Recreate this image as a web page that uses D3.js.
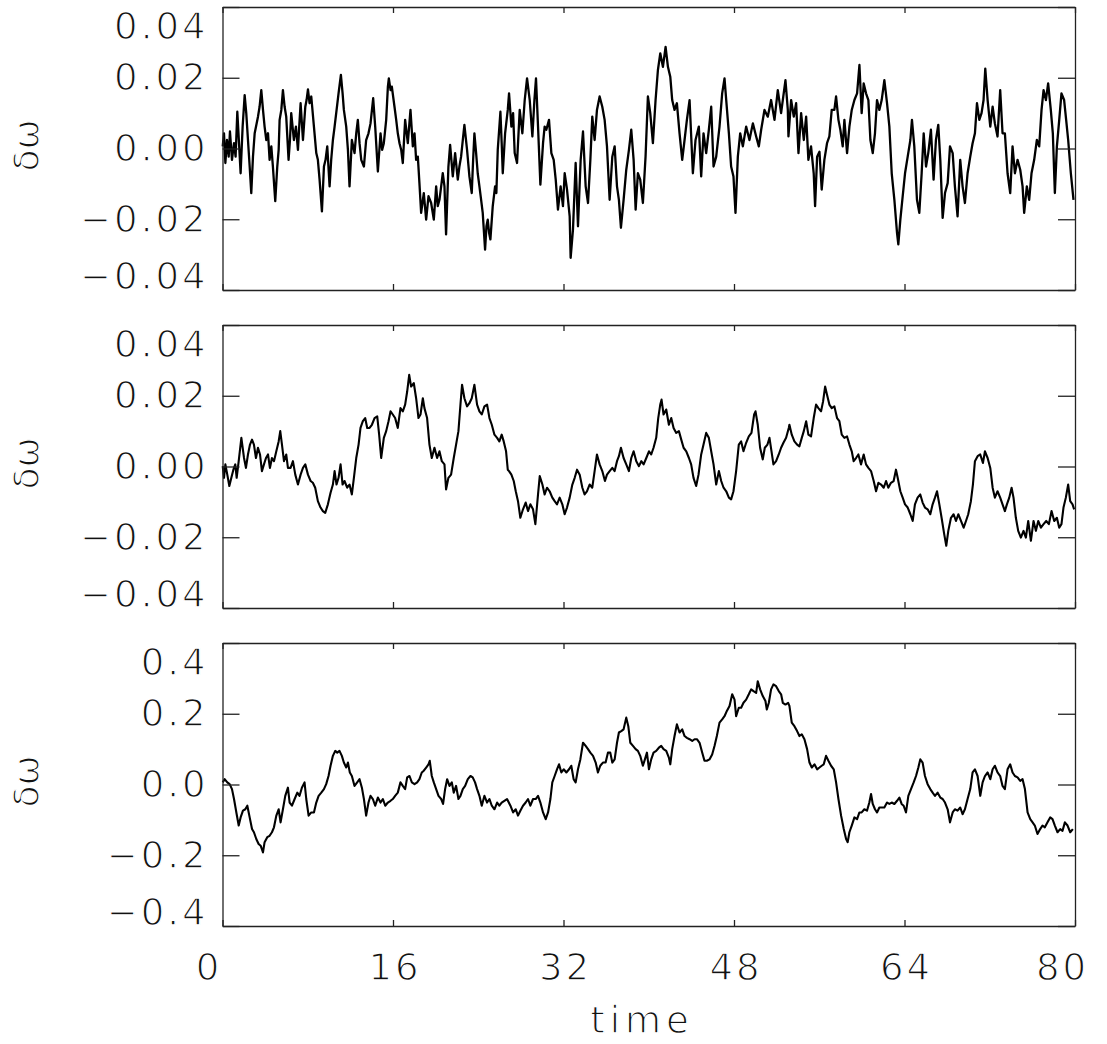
<!DOCTYPE html>
<html><head><meta charset="utf-8">
<script src="https://cdn.jsdelivr.net/npm/d3@7"></script>
<style>
body{margin:0;background:#fff}
svg text{font-family:"DejaVu Sans","Liberation Sans",sans-serif;fill:#111;stroke:#fff;stroke-width:1.3px}
</style></head><body>
<svg id="c" width="1107" height="1044"></svg>
<script>
// ---- data ----
const times1=[0.02,0.14,0.27,0.42,0.58,0.70,0.89,1.08,1.23,1.39,1.55,1.70,1.89,2.08,2.23,2.39,2.55,2.70,2.86,3.02,3.33,3.48,3.64,3.80,3.95,4.11,4.27,4.42,4.58,4.73,4.95,5.14,5.27,5.36,5.52,5.67,5.83,5.98,6.20,6.33,6.45,6.70,6.89,7.08,7.20,7.33,7.55,7.77,7.89,8.02,8.17,8.33,8.58,8.80,8.95,9.11,9.33,9.52,9.67,9.83,10.05,10.20,10.36,10.52,10.67,10.89,11.11,11.27,11.39,11.61,11.77,11.92,12.14,12.39,12.55,12.70,12.86,13.02,13.27,13.48,13.70,13.89,14.14,14.33,14.58,14.83,14.98,15.14,15.36,15.52,15.61,15.77,15.89,16.14,16.30,16.45,16.61,16.77,16.92,17.14,17.39,17.64,17.86,18.02,18.17,18.33,18.48,18.64,18.89,19.11,19.33,19.58,19.83,20.05,20.20,20.36,20.52,20.67,20.83,20.98,21.20,21.36,21.61,21.83,22.08,22.23,22.39,22.55,22.70,22.95,23.17,23.39,23.52,23.64,23.80,23.95,24.11,24.27,24.42,24.64,24.77,24.89,25.02,25.14,25.36,25.58,25.70,25.83,26.08,26.20,26.30,26.52,26.77,26.89,27.11,27.27,27.42,27.64,27.89,28.14,28.36,28.58,28.83,29.08,29.27,29.42,29.61,29.83,30.08,30.23,30.39,30.64,30.86,31.08,31.27,31.48,31.73,31.95,32.11,32.33,32.58,32.67,32.89,33.14,33.36,33.61,33.83,34.08,34.30,34.52,34.70,34.92,35.14,35.39,35.64,35.86,36.08,36.33,36.58,36.80,37.02,37.20,37.39,37.64,37.89,38.14,38.36,38.58,38.77,38.98,39.20,39.45,39.70,39.92,40.14,40.39,40.64,40.86,41.08,41.33,41.58,41.80,42.02,42.20,42.42,42.64,42.89,43.14,43.36,43.58,43.83,44.14,44.39,44.70,44.92,45.14,45.39,45.64,45.86,46.08,46.33,46.64,46.89,47.11,47.27,47.52,47.73,47.95,48.14,48.36,48.58,48.83,49.14,49.45,49.77,50.08,50.33,50.55,50.86,51.17,51.48,51.80,52.11,52.42,52.58,52.83,53.05,53.11,53.36,53.61,53.83,54.05,54.30,54.55,54.77,54.98,55.23,55.48,55.61,55.80,56.02,56.23,56.48,56.73,56.95,57.17,57.42,57.58,57.80,57.98,58.20,58.36,58.61,58.83,59.05,59.30,59.55,59.77,59.98,60.17,60.39,60.61,60.80,61.02,61.23,61.42,61.64,61.86,62.11,62.36,62.58,62.80,63.05,63.30,63.42,63.61,63.83,64.05,64.30,64.55,64.70,64.92,65.17,65.39,65.61,65.80,66.02,66.23,66.48,66.73,66.95,67.17,67.36,67.58,67.80,68.05,68.27,68.52,68.73,68.98,69.23,69.45,69.67,69.92,70.17,70.39,70.61,70.80,71.02,71.23,71.42,71.58,71.80,72.05,72.27,72.48,72.73,72.98,73.20,73.42,73.67,73.92,74.14,74.36,74.61,74.86,75.08,75.23,75.48,75.70,75.92,76.17,76.42,76.64,76.86,77.05,77.27,77.48,77.73,77.92,78.11,78.30,78.52,78.73,78.98,79.17,79.36,79.61,79.86];
const dw1=[0.0006,0.0043,-0.0041,0.0024,-0.0023,0.0048,-0.0032,0.0015,-0.0023,0.0104,0.0015,-0.0070,0.0062,0.0151,0.0100,0.0024,-0.0051,-0.0126,-0.0023,0.0043,0.0090,0.0118,0.0165,0.0109,0.0062,0.0024,0.0043,-0.0032,0.0006,-0.0051,-0.0149,-0.0051,-0.0004,0.0081,0.0109,0.0165,0.0118,0.0090,-0.0032,0.0024,0.0100,0.0024,0.0062,-0.0004,0.0062,0.0128,0.0024,0.0118,0.0137,0.0167,0.0128,0.0147,0.0062,-0.0013,-0.0032,-0.0088,-0.0178,-0.0051,-0.0032,0.0006,-0.0107,-0.0032,0.0024,0.0062,0.0100,0.0156,0.0208,0.0156,0.0109,0.0062,-0.0004,-0.0107,0.0024,-0.0013,0.0043,0.0081,0.0015,-0.0032,-0.0051,0.0024,0.0043,0.0071,0.0142,0.0062,-0.0065,0.0043,-0.0004,0.0015,0.0081,0.0175,0.0198,0.0165,0.0175,0.0118,0.0081,0.0043,0.0015,-0.0004,-0.0041,0.0081,0.0015,0.0109,0.0006,0.0043,-0.0032,-0.0023,-0.0098,-0.0182,-0.0126,-0.0201,-0.0135,-0.0154,-0.0201,-0.0107,-0.0163,-0.0145,-0.0107,-0.0070,-0.0107,-0.0243,-0.0051,0.0010,-0.0079,-0.0013,-0.0088,-0.0051,-0.0023,0.0024,0.0067,-0.0004,-0.0079,-0.0126,-0.0032,0.0043,-0.0013,-0.0070,-0.0107,-0.0145,-0.0182,-0.0286,-0.0220,-0.0201,-0.0239,-0.0257,-0.0163,-0.0107,-0.0126,-0.0004,0.0104,0.0015,-0.0070,0.0043,0.0109,0.0156,0.0062,0.0100,-0.0013,-0.0041,0.0109,0.0043,0.0137,0.0198,0.0137,0.0034,0.0137,0.0198,0.0062,-0.0102,0.0015,0.0062,0.0053,0.0081,-0.0013,-0.0032,-0.0088,-0.0173,-0.0107,-0.0163,-0.0070,-0.0116,-0.0192,-0.0309,-0.0229,-0.0041,-0.0220,-0.0032,0.0048,-0.0107,-0.0154,-0.0032,0.0090,0.0024,0.0109,0.0147,0.0118,0.0081,0.0006,-0.0145,-0.0023,0.0006,-0.0107,-0.0145,-0.0224,-0.0145,-0.0060,-0.0004,0.0053,-0.0032,-0.0173,-0.0070,-0.0088,-0.0154,-0.0023,0.0147,0.0100,0.0015,0.0137,0.0222,0.0269,0.0231,0.0287,0.0231,0.0203,0.0137,0.0109,0.0128,0.0043,-0.0032,0.0024,0.0081,0.0137,-0.0070,0.0024,0.0062,-0.0079,0.0043,-0.0013,0.0053,0.0118,-0.0051,-0.0023,0.0062,0.0156,0.0198,0.0137,0.0043,-0.0051,-0.0079,-0.0182,-0.0023,0.0043,0.0006,0.0062,0.0024,0.0071,0.0034,0.0006,0.0053,0.0109,0.0090,0.0137,0.0081,0.0165,0.0100,0.0137,0.0193,0.0109,0.0034,0.0137,0.0090,0.0128,-0.0013,0.0100,0.0024,0.0090,-0.0032,0.0006,-0.0070,-0.0163,-0.0023,-0.0009,-0.0116,-0.0032,0.0015,0.0034,0.0109,0.0109,0.0147,0.0081,0.0053,0.0006,0.0081,-0.0013,0.0062,0.0109,0.0137,0.0156,0.0236,0.0100,0.0184,0.0156,0.0137,0.0024,-0.0013,0.0043,0.0137,0.0109,0.0137,0.0193,0.0128,0.0062,-0.0070,-0.0145,-0.0239,-0.0271,-0.0201,-0.0135,-0.0070,-0.0023,0.0024,0.0081,0.0006,-0.0145,-0.0182,-0.0070,0.0043,-0.0051,-0.0013,0.0053,-0.0088,0.0024,0.0067,-0.0032,-0.0196,-0.0126,-0.0098,0.0006,-0.0013,-0.0107,-0.0192,-0.0032,-0.0107,-0.0154,-0.0070,-0.0023,0.0015,0.0043,0.0128,0.0081,0.0100,0.0137,0.0226,0.0137,0.0062,0.0118,0.0071,0.0034,0.0165,0.0043,0.0043,-0.0070,-0.0126,0.0006,-0.0070,-0.0032,-0.0060,-0.0107,-0.0182,-0.0107,-0.0145,-0.0070,-0.0032,0.0024,0.0006,0.0109,0.0165,0.0137,0.0184,0.0109,0.0043,-0.0126,0.0006,0.0081,0.0156,0.0137,0.0081,0.0024,-0.0070,-0.0145];

const times2=[0.02,0.14,0.27,0.45,0.64,0.83,1.02,1.20,1.33,1.52,1.77,2.02,2.20,2.39,2.58,2.77,2.95,3.14,3.33,3.52,3.70,3.89,4.08,4.27,4.45,4.64,4.83,5.05,5.27,5.42,5.58,5.77,5.98,6.14,6.39,6.61,6.83,7.08,7.33,7.55,7.77,8.02,8.27,8.48,8.70,8.95,9.20,9.42,9.64,9.89,10.14,10.36,10.52,10.70,10.89,11.08,11.27,11.45,11.70,11.92,12.14,12.33,12.55,12.77,12.95,13.17,13.39,13.58,13.80,14.02,14.27,14.52,14.70,14.89,15.14,15.36,15.58,15.77,15.98,16.20,16.45,16.70,16.92,17.14,17.33,17.52,17.70,17.95,18.17,18.39,18.58,18.80,18.95,19.20,19.42,19.64,19.89,20.14,20.36,20.58,20.83,20.98,21.20,21.45,21.70,21.92,22.14,22.33,22.48,22.70,22.95,23.17,23.39,23.64,23.89,24.11,24.33,24.58,24.83,25.05,25.27,25.52,25.77,25.98,26.20,26.39,26.61,26.77,26.89,27.11,27.33,27.52,27.73,27.95,28.20,28.45,28.67,28.89,29.14,29.36,29.61,29.77,30.02,30.23,30.45,30.70,30.95,31.17,31.39,31.64,31.89,32.11,32.33,32.58,32.83,33.05,33.27,33.52,33.77,33.98,34.20,34.45,34.70,34.92,35.14,35.39,35.64,35.89,36.08,36.33,36.58,36.80,37.02,37.20,37.39,37.64,37.89,38.14,38.36,38.58,38.83,39.08,39.30,39.52,39.77,40.02,40.23,40.45,40.70,40.89,41.08,41.20,41.39,41.64,41.89,42.11,42.33,42.58,42.83,43.05,43.27,43.52,43.77,43.98,44.20,44.45,44.67,44.92,45.14,45.39,45.64,45.86,46.08,46.33,46.58,46.80,47.02,47.27,47.52,47.73,47.95,48.20,48.45,48.67,48.89,49.14,49.39,49.64,49.89,50.02,50.23,50.45,50.70,50.89,51.14,51.33,51.52,51.70,51.95,52.20,52.42,52.64,52.89,53.14,53.20,53.42,53.67,53.92,54.14,54.36,54.55,54.77,54.98,55.23,55.48,55.70,55.92,56.17,56.36,56.55,56.73,56.95,57.17,57.42,57.67,57.89,58.11,58.36,58.61,58.83,59.05,59.23,59.45,59.67,59.92,60.17,60.39,60.61,60.86,61.11,61.33,61.55,61.80,62.05,62.27,62.48,62.73,62.98,63.20,63.36,63.61,63.83,64.05,64.30,64.55,64.77,64.98,65.23,65.48,65.70,65.92,66.17,66.42,66.64,66.86,67.05,67.27,67.48,67.73,67.92,68.11,68.36,68.61,68.83,69.05,69.30,69.55,69.77,69.98,70.23,70.42,70.61,70.86,71.11,71.36,71.55,71.80,72.05,72.27,72.48,72.73,72.98,73.20,73.42,73.61,73.83,74.05,74.23,74.45,74.67,74.92,75.17,75.39,75.61,75.86,76.11,76.33,76.55,76.80,77.05,77.30,77.55,77.80,78.05,78.30,78.52,78.73,78.92,79.14,79.36,79.55,79.77,79.92];
const dw2=[0.0001,-0.0032,0.0006,-0.0023,-0.0055,-0.0032,-0.0009,0.0006,-0.0032,0.0015,0.0081,0.0024,-0.0004,0.0034,0.0062,0.0076,0.0062,0.0024,0.0053,0.0034,-0.0013,0.0006,0.0024,0.0034,-0.0004,0.0024,0.0015,0.0043,0.0071,0.0100,0.0062,0.0015,0.0034,-0.0004,-0.0004,0.0015,-0.0023,-0.0051,-0.0023,-0.0004,0.0006,-0.0023,-0.0041,-0.0046,-0.0060,-0.0098,-0.0116,-0.0126,-0.0131,-0.0107,-0.0074,-0.0051,-0.0013,-0.0051,-0.0032,0.0006,-0.0051,-0.0041,-0.0060,-0.0051,-0.0079,-0.0032,0.0024,0.0062,0.0109,0.0128,0.0137,0.0109,0.0109,0.0118,0.0137,0.0142,0.0090,0.0024,0.0081,0.0100,0.0128,0.0156,0.0147,0.0137,0.0109,0.0165,0.0156,0.0175,0.0212,0.0259,0.0226,0.0236,0.0193,0.0137,0.0147,0.0193,0.0165,0.0137,0.0062,0.0024,0.0053,0.0024,0.0043,0.0015,0.0006,-0.0065,-0.0032,-0.0023,0.0024,0.0062,0.0100,0.0175,0.0231,0.0193,0.0170,0.0179,0.0193,0.0231,0.0175,0.0156,0.0147,0.0170,0.0175,0.0137,0.0118,0.0090,0.0081,0.0071,0.0090,0.0071,0.0043,-0.0009,-0.0013,-0.0023,-0.0041,-0.0070,-0.0098,-0.0145,-0.0121,-0.0102,-0.0126,-0.0107,-0.0121,-0.0163,-0.0079,-0.0027,-0.0051,-0.0079,-0.0060,-0.0070,-0.0088,-0.0098,-0.0107,-0.0088,-0.0107,-0.0135,-0.0116,-0.0088,-0.0051,-0.0032,-0.0009,-0.0023,-0.0060,-0.0079,-0.0070,-0.0051,-0.0060,-0.0013,0.0034,0.0006,-0.0013,-0.0041,-0.0023,-0.0013,-0.0004,-0.0013,0.0015,0.0029,0.0053,0.0024,0.0006,-0.0013,0.0024,0.0043,0.0015,0.0001,0.0015,0.0006,0.0024,0.0043,0.0034,0.0053,0.0081,0.0137,0.0175,0.0189,0.0147,0.0161,0.0118,0.0137,0.0109,0.0095,0.0100,0.0076,0.0053,0.0043,0.0024,0.0006,-0.0032,-0.0055,-0.0023,0.0034,0.0062,0.0095,0.0081,0.0043,0.0006,-0.0051,-0.0013,-0.0041,-0.0060,-0.0070,-0.0088,-0.0093,-0.0070,-0.0013,0.0062,0.0071,0.0043,0.0067,0.0085,0.0095,0.0147,0.0156,0.0118,0.0053,0.0020,0.0053,0.0062,0.0081,0.0043,0.0006,0.0015,0.0034,0.0053,0.0067,0.0081,0.0109,0.0118,0.0090,0.0071,0.0062,0.0057,0.0081,0.0100,0.0128,0.0090,0.0085,0.0137,0.0175,0.0165,0.0156,0.0184,0.0226,0.0203,0.0175,0.0165,0.0170,0.0137,0.0128,0.0090,0.0081,0.0085,0.0062,0.0043,0.0015,0.0024,0.0034,0.0006,0.0034,0.0006,-0.0004,-0.0013,-0.0041,-0.0070,-0.0046,-0.0051,-0.0060,-0.0041,-0.0060,-0.0046,-0.0041,-0.0009,-0.0032,-0.0070,-0.0088,-0.0107,-0.0116,-0.0135,-0.0154,-0.0107,-0.0088,-0.0079,-0.0102,-0.0116,-0.0121,-0.0135,-0.0107,-0.0088,-0.0070,-0.0107,-0.0145,-0.0192,-0.0224,-0.0182,-0.0145,-0.0135,-0.0154,-0.0135,-0.0154,-0.0173,-0.0154,-0.0135,-0.0098,-0.0051,0.0015,0.0029,0.0034,0.0010,0.0043,0.0024,-0.0004,-0.0060,-0.0088,-0.0070,-0.0088,-0.0107,-0.0126,-0.0107,-0.0088,-0.0060,-0.0088,-0.0145,-0.0182,-0.0201,-0.0182,-0.0201,-0.0154,-0.0210,-0.0154,-0.0182,-0.0154,-0.0173,-0.0163,-0.0154,-0.0163,-0.0126,-0.0154,-0.0145,-0.0173,-0.0163,-0.0116,-0.0088,-0.0051,-0.0098,-0.0107,-0.0121];

const times3=[0.02,0.20,0.45,0.67,0.89,1.08,1.30,1.52,1.70,1.92,2.14,2.33,2.55,2.77,2.95,3.17,3.39,3.58,3.80,3.95,4.20,4.42,4.64,4.83,5.05,5.27,5.45,5.67,5.89,6.14,6.30,6.52,6.77,7.02,7.23,7.45,7.70,7.86,8.08,8.33,8.58,8.80,9.02,9.27,9.52,9.73,9.95,10.14,10.36,10.58,10.77,10.98,11.20,11.39,11.61,11.77,11.95,12.14,12.39,12.64,12.86,13.08,13.27,13.48,13.70,13.89,14.11,14.33,14.58,14.83,15.05,15.27,15.52,15.77,15.98,16.20,16.45,16.70,16.92,17.14,17.33,17.55,17.77,18.02,18.27,18.48,18.70,18.89,19.11,19.33,19.45,19.64,19.83,20.05,20.27,20.52,20.70,20.89,21.08,21.30,21.52,21.70,21.92,22.14,22.33,22.55,22.77,23.02,23.27,23.48,23.70,23.89,24.11,24.33,24.58,24.83,25.05,25.27,25.52,25.77,25.98,26.20,26.45,26.70,27.02,27.27,27.52,27.73,27.95,28.20,28.45,28.67,28.89,29.14,29.39,29.61,29.83,30.08,30.33,30.55,30.77,30.95,31.17,31.39,31.58,31.80,32.02,32.27,32.52,32.73,32.95,33.14,33.36,33.58,33.83,34.08,34.30,34.52,34.77,35.02,35.23,35.45,35.70,35.95,36.17,36.39,36.58,36.80,37.02,37.20,37.42,37.64,37.89,38.08,38.27,38.52,38.77,38.98,39.20,39.45,39.64,39.83,40.02,40.23,40.45,40.70,40.95,41.17,41.39,41.64,41.89,42.02,42.20,42.42,42.64,42.89,43.14,43.36,43.58,43.83,44.08,44.30,44.52,44.77,45.02,45.23,45.45,45.70,45.95,46.17,46.39,46.64,46.89,47.11,47.33,47.58,47.83,48.05,48.20,48.45,48.67,48.89,49.14,49.39,49.61,49.83,50.08,50.23,50.45,50.70,50.95,51.08,51.27,51.48,51.70,51.95,52.20,52.42,52.58,52.83,53.08,53.20,53.42,53.67,53.92,54.14,54.36,54.61,54.86,55.08,55.30,55.55,55.80,56.02,56.23,56.42,56.64,56.86,57.11,57.36,57.58,57.80,58.05,58.30,58.52,58.67,58.83,59.05,59.30,59.55,59.77,59.98,60.23,60.48,60.70,60.86,61.02,61.23,61.42,61.64,61.86,62.11,62.36,62.58,62.80,63.05,63.30,63.52,63.73,63.92,64.14,64.36,64.61,64.86,65.08,65.30,65.48,65.70,65.92,66.17,66.42,66.64,66.86,67.11,67.36,67.58,67.80,68.05,68.27,68.52,68.73,68.98,69.23,69.45,69.67,69.92,70.17,70.39,70.61,70.86,71.11,71.33,71.55,71.80,72.05,72.27,72.48,72.73,72.98,73.20,73.42,73.67,73.92,74.14,74.36,74.61,74.86,75.08,75.30,75.55,75.80,76.02,76.23,76.48,76.73,76.95,77.17,77.42,77.67,77.89,78.11,78.36,78.61,78.83,79.05,79.30,79.55,79.80];
const dw3=[0.006,0.015,0.006,0.001,-0.013,-0.041,-0.079,-0.116,-0.093,-0.074,-0.070,-0.060,-0.093,-0.126,-0.135,-0.154,-0.168,-0.173,-0.192,-0.163,-0.149,-0.145,-0.135,-0.121,-0.088,-0.070,-0.107,-0.070,-0.032,-0.009,-0.051,-0.060,-0.041,-0.023,-0.032,-0.009,0.006,-0.041,-0.088,-0.079,-0.079,-0.051,-0.032,-0.023,-0.013,0.001,0.024,0.053,0.081,0.095,0.090,0.095,0.081,0.062,0.048,0.062,0.034,0.024,-0.004,0.006,0.015,-0.009,-0.041,-0.088,-0.051,-0.032,-0.041,-0.060,-0.037,-0.051,-0.041,-0.060,-0.051,-0.046,-0.041,-0.032,-0.023,0.006,-0.004,-0.013,0.020,0.024,0.006,0.001,0.006,0.015,0.034,0.039,0.048,0.057,0.067,0.024,0.006,-0.013,-0.032,-0.041,-0.055,-0.013,0.015,-0.004,0.006,-0.023,-0.004,-0.041,-0.032,-0.013,-0.004,0.015,0.024,0.020,0.006,-0.013,-0.032,-0.060,-0.032,-0.051,-0.041,-0.060,-0.070,-0.051,-0.060,-0.051,-0.046,-0.041,-0.060,-0.079,-0.070,-0.088,-0.074,-0.060,-0.051,-0.041,-0.060,-0.041,-0.041,-0.032,-0.051,-0.079,-0.098,-0.079,-0.041,0.006,0.024,0.043,0.057,0.034,0.043,0.034,0.043,0.053,0.015,0.006,0.043,0.071,0.118,0.109,0.100,0.090,0.081,0.062,0.034,0.053,0.062,0.062,0.090,0.090,0.062,0.071,0.118,0.147,0.151,0.156,0.189,0.165,0.118,0.109,0.100,0.095,0.081,0.053,0.071,0.090,0.043,0.071,0.090,0.095,0.104,0.109,0.100,0.095,0.076,0.057,0.100,0.137,0.170,0.147,0.156,0.137,0.132,0.128,0.123,0.128,0.128,0.118,0.090,0.067,0.067,0.071,0.085,0.109,0.137,0.175,0.184,0.193,0.208,0.222,0.255,0.240,0.193,0.217,0.217,0.231,0.240,0.255,0.269,0.264,0.259,0.292,0.269,0.250,0.236,0.212,0.231,0.269,0.283,0.278,0.264,0.255,0.231,0.226,0.231,0.222,0.175,0.165,0.151,0.137,0.142,0.128,0.100,0.062,0.048,0.057,0.043,0.048,0.053,0.057,0.081,0.067,0.053,0.043,0.006,-0.041,-0.088,-0.126,-0.154,-0.163,-0.135,-0.116,-0.093,-0.098,-0.079,-0.079,-0.070,-0.074,-0.051,-0.027,-0.055,-0.070,-0.079,-0.065,-0.065,-0.065,-0.051,-0.055,-0.051,-0.055,-0.046,-0.037,-0.055,-0.060,-0.079,-0.032,-0.013,0.006,0.024,0.048,0.071,0.062,0.024,0.001,-0.013,-0.023,-0.032,-0.023,-0.037,-0.041,-0.051,-0.070,-0.107,-0.079,-0.070,-0.074,-0.065,-0.084,-0.070,-0.041,-0.013,0.034,0.043,0.024,-0.032,0.006,0.024,0.034,0.015,0.043,0.053,0.034,0.024,-0.004,-0.013,0.043,0.057,0.034,0.024,0.020,0.010,0.015,-0.013,-0.079,-0.098,-0.107,-0.116,-0.140,-0.126,-0.116,-0.121,-0.107,-0.093,-0.098,-0.116,-0.135,-0.126,-0.131,-0.107,-0.116,-0.135,-0.126];

const xTicks=[0,16,32,48,64,80];
const yTicksSmall=[-0.04,-0.02,0,0.02,0.04];
const yLabelsSmall=["\u22120.04","\u22120.02","0.00","0.02","0.04"];
const yTicksLarge=[-0.4,-0.2,0,0.2,0.4];
const yLabelsLarge=["\u22120.4","\u22120.2","0.0","0.2","0.4"];
const xTitle="time";
const yTitle="\u03b4\u03c9";

// ---- layout ----
const svg=d3.select("#c");
const L=222.5,R=1075,PH=283;
const tops=[7,325,643];
const x=d3.scaleLinear().domain([0,80]).range([L,R]);
const panels=[
  {t:times1,v:dw1,ticks:yTicksSmall,labels:yLabelsSmall,dom:[-0.04,0.04],sw:2.3},
  {t:times2,v:dw2,ticks:yTicksSmall,labels:yLabelsSmall,dom:[-0.04,0.04],sw:2.1},
  {t:times3,v:dw3,ticks:yTicksLarge,labels:yLabelsLarge,dom:[-0.4,0.4],sw:2.1}
];
const FS=37;
panels.forEach((p,i)=>{
  const top=tops[i], bot=top+PH;
  const y=d3.scaleLinear().domain(p.dom).range([bot,top]);
  const g=svg.append("g");
  const data=p.t.map((t,k)=>[t,p.v[k]]);
  g.append("path").datum(data)
    .attr("fill","none").attr("stroke","#000").attr("stroke-width",p.sw)
    .attr("stroke-linejoin","round")
    .attr("d",d3.line().x(d=>x(d[0])).y(d=>y(d[1])));
  const fmt=v=>p.labels[p.ticks.indexOf(v)];
  const ax=(gen,tr)=>{
    const a=g.append("g").attr("transform",tr).call(gen);
    a.selectAll("path,line").attr("stroke","#222").attr("stroke-width",1.3);
    return a;
  };
  const left=ax(d3.axisLeft(y).tickValues(p.ticks).tickFormat(fmt).tickSizeInner(-17).tickSizeOuter(0).tickPadding(14),`translate(${L},0)`);
  left.selectAll("text").attr("font-size",FS).attr("letter-spacing","3px")
    .attr("font-family",null)
    .attr("dy",d=>d===p.dom[1]?"0.85em":(d===p.dom[0]?"-0.05em":"0.32em"));
  ax(d3.axisRight(y).tickValues(p.ticks).tickFormat("").tickSizeInner(-17).tickSizeOuter(0),`translate(${R},0)`);
  ax(d3.axisTop(x).tickValues(xTicks).tickFormat("").tickSizeInner(-6).tickSizeOuter(0),`translate(0,${top})`);
  const b=ax(d3.axisBottom(x).tickValues(xTicks).tickFormat(i===2?(d=>String(d)):"").tickSizeInner(-6).tickSizeOuter(0).tickPadding(28),`translate(0,${bot})`);
  b.selectAll("text").attr("font-size",FS).attr("letter-spacing","3px").attr("font-family",null)
    .attr("dx",d=>d===0?-14:(d===80?-13:1.5));
  svg.append("text").attr("transform",`translate(39,${(top+bot)/2-3}) rotate(-90)`)
    .attr("text-anchor","middle").attr("font-size",36).text(yTitle);
});
svg.append("text").attr("x",642).attr("y",1033).attr("text-anchor","middle")
  .attr("font-size",FS).attr("letter-spacing","5px").text(xTitle);
svg.selectAll(".domain").attr("stroke","#222");
</script>
</body></html>
